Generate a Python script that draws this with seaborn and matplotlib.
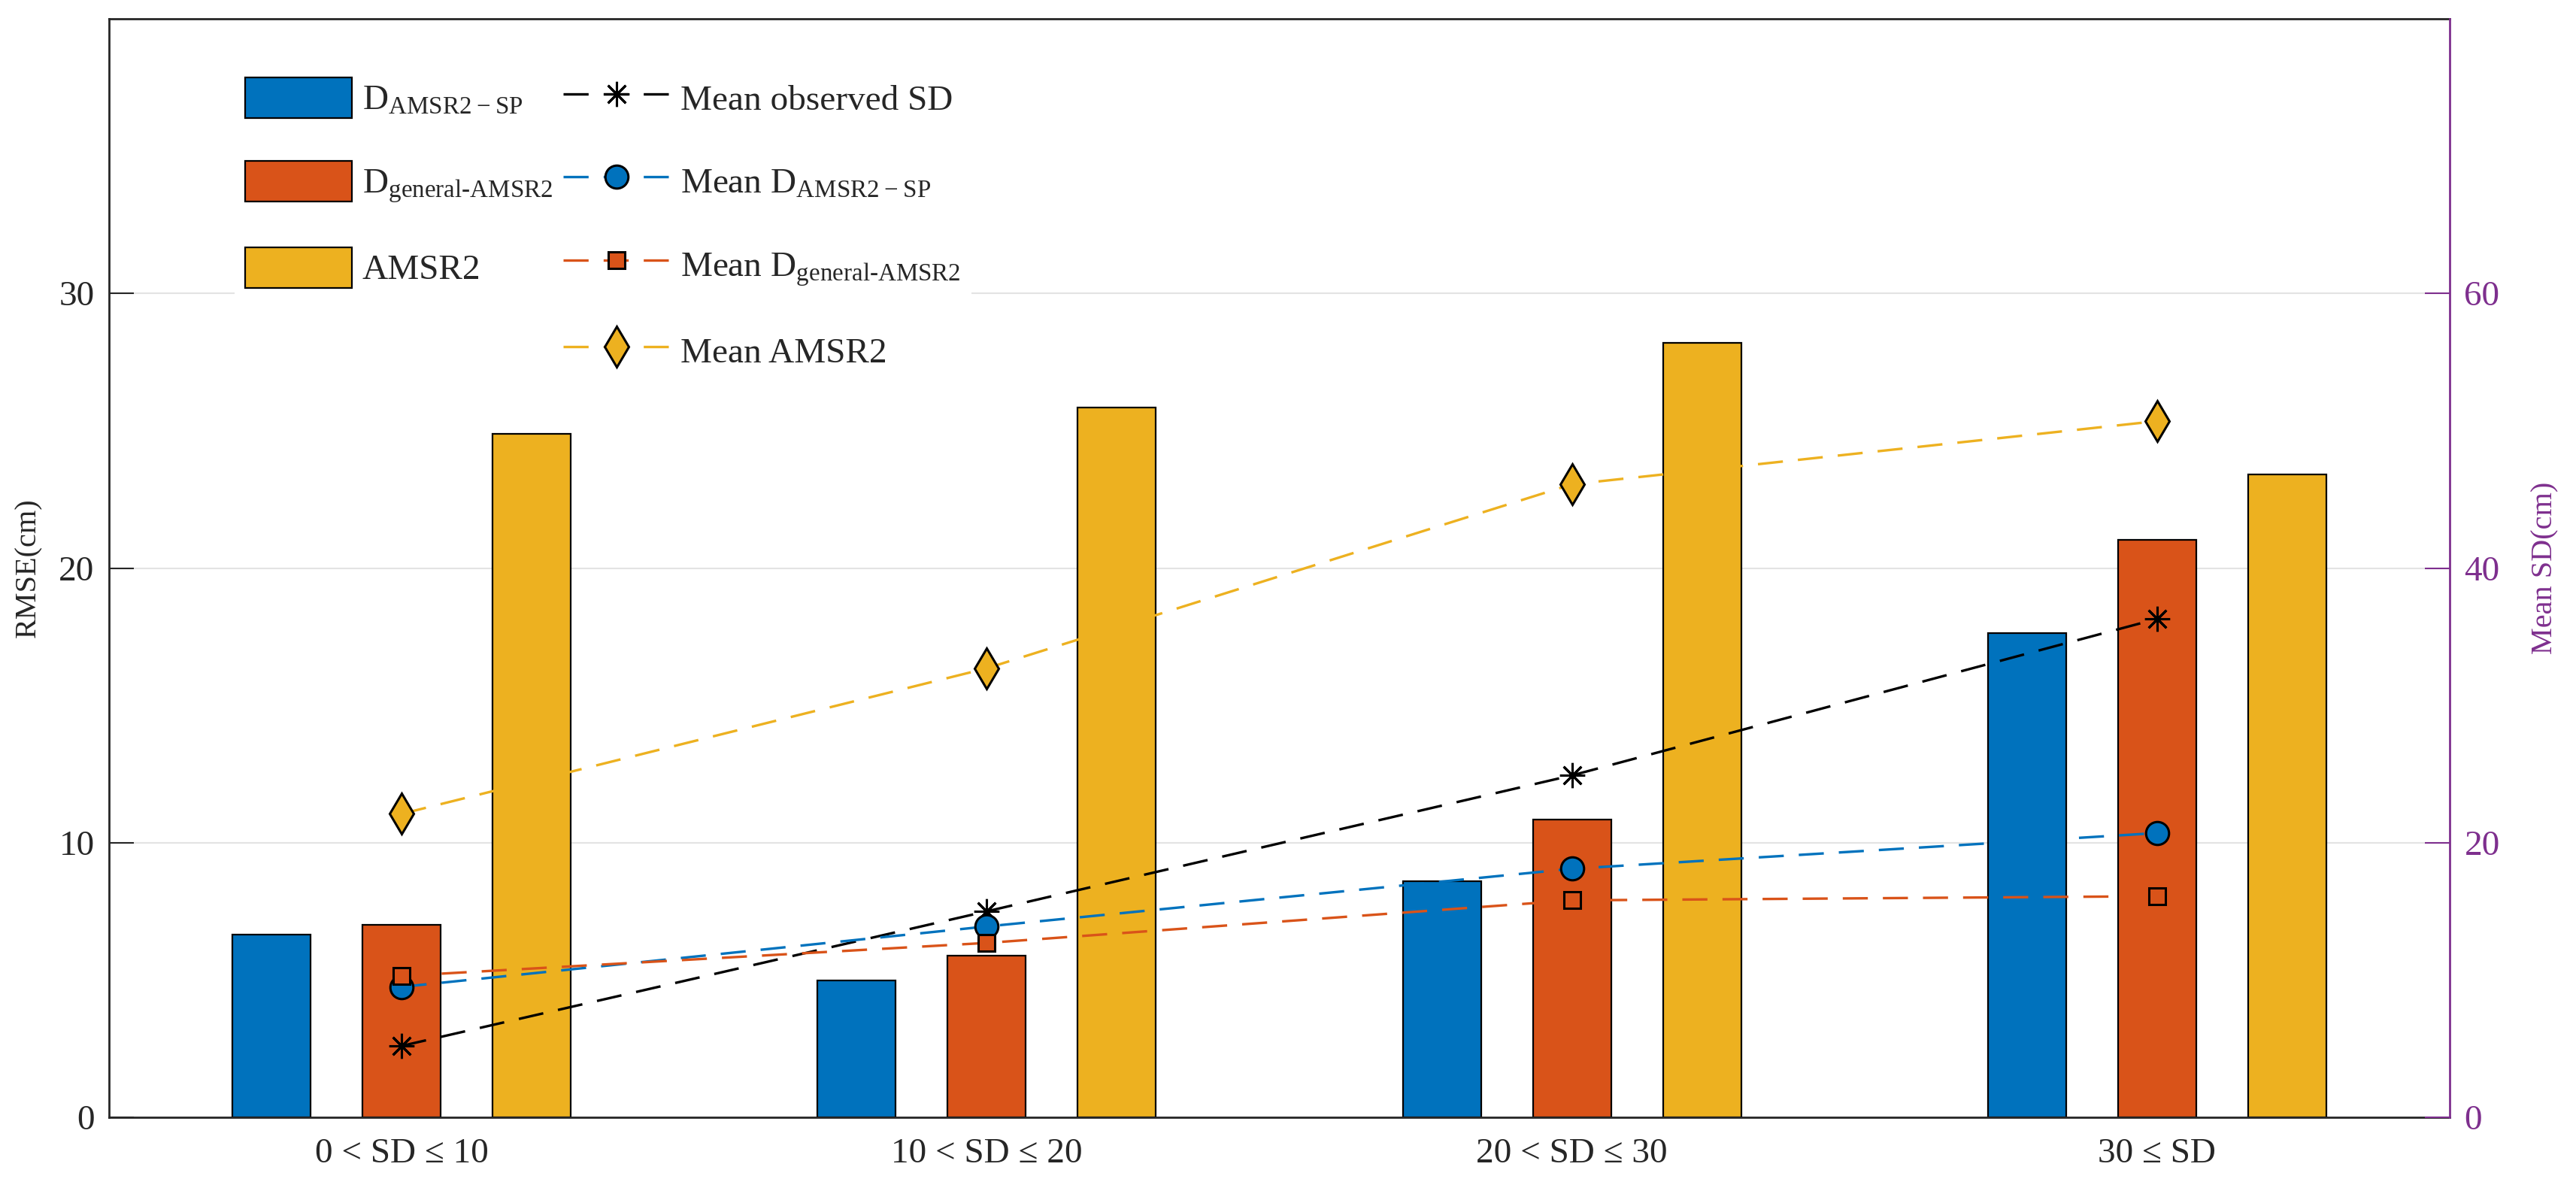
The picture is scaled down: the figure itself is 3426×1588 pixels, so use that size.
import numpy as np
import pandas as pd
import matplotlib
matplotlib.use("Agg")
import matplotlib.pyplot as plt
from matplotlib.patches import Patch, Rectangle
from matplotlib.lines import Line2D
import seaborn as sns

# data
categories = ["0 < SD ≤ 10", "10 < SD ≤ 20", "20 < SD ≤ 30", "30 ≤ SD"]
bar_series = ["D_AMSR2-SP", "D_general-AMSR2", "AMSR2"]
rmse_amsr2_sp = [6.66, 4.99, 8.6, 17.62]
rmse_general = [7.02, 5.88, 10.85, 21.03]
rmse_amsr2 = [24.9, 25.85, 28.2, 23.42]

mean_obs_sd = [5.2, 15.0, 24.9, 36.3]
mean_amsr2_sp = [9.5, 13.9, 18.1, 20.7]
mean_general = [10.3, 12.7, 15.8, 16.1]
mean_amsr2 = [22.1, 32.7, 46.1, 50.7]

blue = "#0072BD"
orange = "#D95319"
yellow = "#EDB120"
purple = "#7E2F8E"

sns.set_style("ticks")
plt.rcParams["font.family"] = ["Liberation Serif", "DejaVu Serif"]
plt.rcParams["mathtext.fontset"] = "custom"
plt.rcParams["mathtext.rm"] = "Liberation Serif"
plt.rcParams["mathtext.default"] = "regular"

df = pd.DataFrame({
    "group": categories * 3,
    "series": [s for s in bar_series for _ in categories],
    "rmse": rmse_amsr2_sp + rmse_general + rmse_amsr2,
})

fig = plt.figure(figsize=(34.26, 15.88), dpi=100)
ax = fig.add_axes([145 / 3426, 1 - 1486 / 1588, (3258 - 145) / 3426, (1486 - 25) / 1588])

sns.barplot(data=df, x="group", y="rmse", hue="series", palette=[blue, orange, yellow],
            saturation=1, width=0.667, gap=0.4, edgecolor="black", linewidth=1.6,
            legend=False, ax=ax, zorder=2)

ax.set_xlim(-0.5, 3.5)
ax.set_ylim(0, 40)
ax.set_yticks([0, 10, 20, 30])
ax.set_xlabel("")
ax.set_ylabel("RMSE(cm)", fontsize=29, labelpad=16)
ax.yaxis.grid(True, color="#e3e3e3", linewidth=1.5, zorder=0)
ax.set_axisbelow(True)
ax.tick_params(axis="both", direction="in", length=24, width=1.5, labelsize=34, colors="#262626")
ax.tick_params(axis="x", pad=20)
ax.tick_params(axis="y", pad=14)
ax.tick_params(axis="y", which="both", right=False)
for side in ["left", "top", "bottom"]:
    ax.spines[side].set_visible(True)
    ax.spines[side].set_linewidth(2)
    ax.spines[side].set_color("#262626")
ax.spines["right"].set_visible(False)

ax2 = ax.twinx()
xpos = np.arange(len(categories))
dash = (0, (10, 6))
lw = 2.4
line_specs = [
    ("Mean observed SD", mean_obs_sd, "black", (8, 2, 0), 24, "black"),
    ("Mean D$_{AMSR2\u2212SP}$", mean_amsr2_sp, blue, "o", 22, blue),
    ("Mean D$_{general\u2010AMSR2}$", mean_general, orange, "s", 16, orange),
    ("Mean AMSR2", mean_amsr2, yellow, "d", 27, yellow),
]
line_handles = []
for label, vals, col, mk, ms, face in line_specs:
    sns.lineplot(x=xpos, y=vals, ax=ax2, color=col, linestyle=dash, linewidth=lw,
                 marker=mk, markersize=ms, markerfacecolor=face, markeredgecolor="black",
                 markeredgewidth=2.2, zorder=3)
    line_handles.append(Line2D([], [], color=col, linestyle=dash, linewidth=lw, marker=mk,
                               markersize=ms, markerfacecolor=face, markeredgecolor="black",
                               markeredgewidth=2.2, label=label))

ax2.set_ylim(0, 80)
ax2.set_yticks([0, 20, 40, 60])
ax2.set_ylabel("Mean SD(cm)", fontsize=29, color=purple, labelpad=30)
ax2.tick_params(axis="y", direction="in", length=24, width=1.5, labelsize=34, colors=purple, pad=14)
for side in ["left", "top", "bottom"]:
    ax2.spines[side].set_visible(False)
ax2.spines["right"].set_visible(True)
ax2.spines["right"].set_color(purple)
ax2.spines["right"].set_linewidth(2)

bar_handles = [
    Patch(facecolor=blue, edgecolor="black", linewidth=1.6, label="D$_{AMSR2\u2212SP}$"),
    Patch(facecolor=orange, edgecolor="black", linewidth=1.6, label="D$_{general\u2010AMSR2}$"),
    Patch(facecolor=yellow, edgecolor="black", linewidth=1.6, label="AMSR2"),
    Rectangle((0, 0), 1, 1, visible=False, label=" "),
]
leg = ax2.legend(handles=bar_handles + line_handles, ncol=2, loc="upper left",
                 bbox_to_anchor=(0.0536, 0.956), frameon=True, fontsize=34,
                 handlelength=3.0, handleheight=1.38, labelspacing=1.2,
                 handletextpad=0.3, columnspacing=0.3, borderpad=0.3, borderaxespad=0,
                 fancybox=False, framealpha=1)
leg.get_frame().set_facecolor("white")
leg.get_frame().set_edgecolor("none")

fig.savefig("out.png", dpi=100)
